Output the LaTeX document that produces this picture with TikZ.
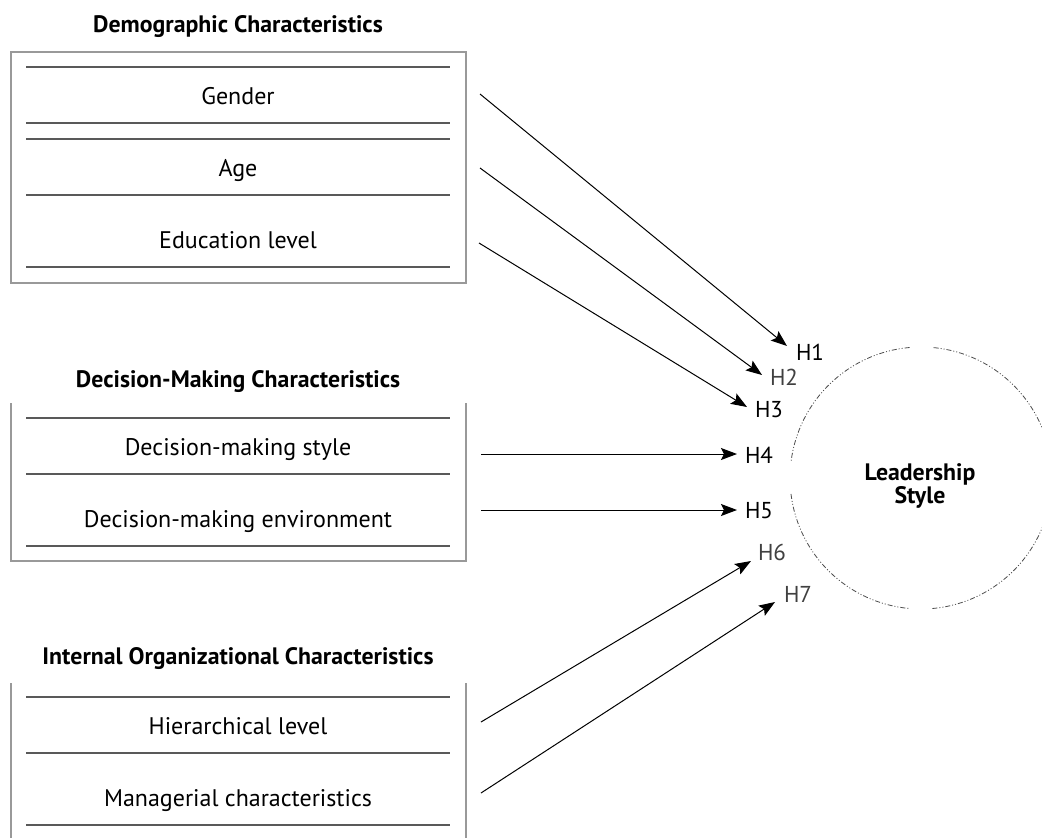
\documentclass[tikz,border=0pt]{standalone}
\usepackage{fontspec}
\setmainfont{PT Sans}
\usetikzlibrary{arrows.meta}
\begin{document}
\begin{tikzpicture}[x=1pt,y=-1pt,
  title/.style={font=\bfseries\fontsize{23.8}{26}\selectfont, inner sep=0pt, anchor=base},
  item/.style={font=\fontsize{24}{26}\selectfont, inner sep=0pt, anchor=base},
  hlab/.style={font=\fontsize{23}{26}\selectfont, inner sep=0pt, anchor=base},
  hlight/.style={hlab, text=black!75},
  frame/.style={draw=black!40, line width=1.5pt},
  sep/.style={draw=black!65, line width=1.2pt},
  arr/.style={-{Stealth[length=16pt,width=12pt,inset=3pt]}, line width=1pt},
  ring/.style={draw=black!70, line width=0.8pt, dash pattern=on 5pt off 2pt on 1pt off 2pt on 1pt off 2pt}]

\useasboundingbox (0,0) rectangle (1042,838);
\fill[white] (0,0) rectangle (1042,838);

% ---------- Demographic ----------
\node[title] (t1) at (238,32) {Demographic Characteristics};
\draw[frame] (11,52) rectangle (466,283);
\draw[sep] (26,67) -- (450,67);
\draw[sep] (26,123) -- (450,123);
\draw[sep] (26,139) -- (450,139);
\draw[sep] (26,195) -- (450,195);
\draw[sep] (26,267) -- (450,267);
\node[item] (gender) at (238,104) {Gender};
\node[item] (age) at (238,176) {Age};
\node[item] (edu) at (238,248) {Education level};

% ---------- Decision-Making ----------
\node[title] (t2) at (238,387) {Decision-Making Characteristics};
\draw[frame] (11,403) -- (11,561) -- (466,561) -- (466,403);
\draw[sep] (26,418) -- (450,418);
\draw[sep] (26,474) -- (450,474);
\draw[sep] (26,546) -- (450,546);
\node[item] (dms) at (238,455) {Decision-making style};
\node[item] (dme) at (238,527) {Decision-making environment};

% ---------- Internal Organizational ----------
\node[title] (t3) at (238,664) {Internal Organizational Characteristics};
\draw[frame] (11,683) -- (11,840);
\draw[frame] (466,683) -- (466,840);
\draw[sep] (26,697) -- (450,697);
\draw[sep] (26,753) -- (450,753);
\draw[sep] (26,825) -- (450,825);
\node[item] (hier) at (238,734) {Hierarchical level};
\node[item] (man) at (238,806) {Managerial characteristics};

% ---------- Leadership Style ----------
\coordinate (c) at (921,478);
\draw[ring] ([shift={(3:131)}]c) arc[start angle=3, end angle=-85, radius=131];
\draw[ring] ([shift={(-95:131)}]c) arc[start angle=-95, end angle=-173, radius=131];
\draw[ring] ([shift={(173:131)}]c) arc[start angle=173, end angle=95, radius=131];
\draw[ring] ([shift={(85:131)}]c) arc[start angle=85, end angle=3, radius=131];
\node[title] (ls1) at (920,480) {Leadership};
\node[title] (ls2) at (920,503) {Style};

% ---------- Hypothesis labels ----------
\node[hlab] (H1) at (810,360) {H1};
\node[hlight] (H2) at (784,385) {H2};
\node[hlab] (H3) at (769,417) {H3};
\node[hlab] (H4) at (759,463) {H4};
\node[hlab] (H5) at (759,518) {H5};
\node[hlight] (H6) at (772,560) {H6};
\node[hlight] (H7) at (798,602) {H7};

% ---------- Arrows ----------
\coordinate (s1) at (480,94);   \coordinate (e1) at (787,346);
\coordinate (s2) at (480,168);  \coordinate (e2) at (762,375);
\coordinate (s3) at (479,243);  \coordinate (e3) at (747,407);
\coordinate (s4) at (481,454);  \coordinate (e4) at (737,454);
\coordinate (s5) at (481,510);  \coordinate (e5) at (737,510);
\coordinate (s6) at (481,722);  \coordinate (e6) at (751,561);
\coordinate (s7) at (481,793);  \coordinate (e7) at (775,602);
\foreach \i in {1,...,7} { \draw[arr] (s\i) -- (e\i); }
\end{tikzpicture}
\end{document}
